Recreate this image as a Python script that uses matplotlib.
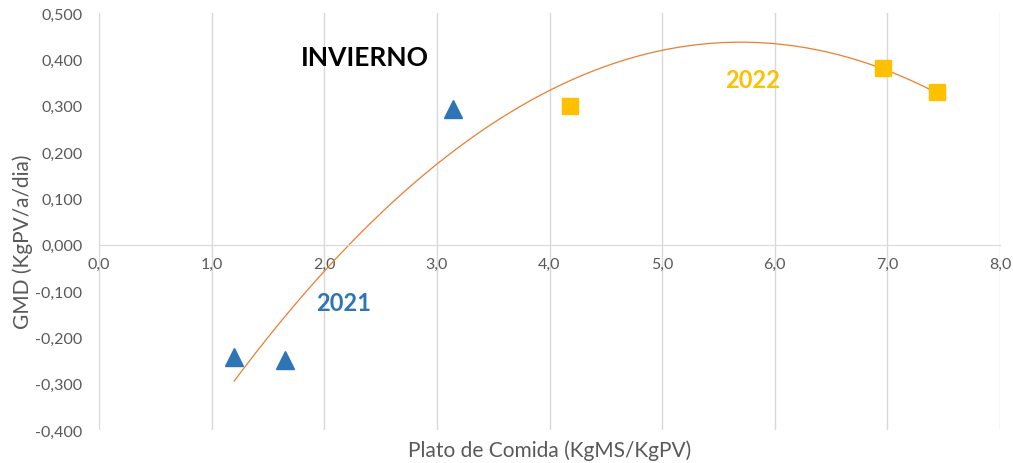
import numpy as np
import matplotlib.pyplot as plt

# datos
x_2021 = [1.20, 1.65, 3.14]
y_2021 = [-0.243, -0.249, 0.293]
x_2022 = [4.18, 6.96, 7.44]
y_2022 = [0.299, 0.381, 0.330]

xticks = [0, 1, 2, 3, 4, 5, 6, 7, 8]
yticks = [-0.4, -0.3, -0.2, -0.1, 0.0, 0.1, 0.2, 0.3, 0.4, 0.5]

plt.rcParams['font.family'] = ['Lato', 'DejaVu Sans']
gris = "#595959"

fig = plt.figure(figsize=(10.13, 4.64), dpi=100)
ax = fig.add_axes([0.0977, 0.0711, 0.8895, 0.8987])

# linea de tendencia polinomica (orden 2)
x_all = np.array(x_2021 + x_2022)
y_all = np.array(y_2021 + y_2022)
coef = np.polyfit(x_all, y_all, 2)
xs = np.linspace(x_all.min(), x_all.max(), 200)
ax.plot(xs, np.polyval(coef, xs), color="#ED7D31", lw=0.9, zorder=2)

ax.plot(x_2021, y_2021, linestyle="none", marker="^", markersize=13, color="#2E75B6", zorder=3)
ax.plot(x_2022, y_2022, linestyle="none", marker="s", markersize=12, color="#FFC000", zorder=3)

ax.text(2.36, 0.405, "INVIERNO", fontsize=19, fontweight="bold", color="black", ha="center", va="center")
ax.text(2.17, -0.124, "2021", fontsize=17, fontweight="bold", color="#2E75B6", ha="center", va="center")
ax.text(5.8, 0.357, "2022", fontsize=17, fontweight="bold", color="#FFC000", ha="center", va="center")

ax.set_xlim(0, 8)
ax.set_ylim(-0.4, 0.5)
ax.set_xticks(xticks)
ax.set_yticks(yticks)
ax.set_xticklabels([f"{v:.1f}".replace(".", ",") for v in xticks])
ax.set_yticklabels([f"{v:.3f}".replace(".", ",") for v in yticks])
ax.tick_params(length=0, labelsize=11.5, labelcolor=gris)
ax.tick_params(axis="x", pad=9)
ax.tick_params(axis="y", pad=12)

ax.grid(True, axis="x", color="#D9D9D9", lw=1)
for s in ["top", "right", "left"]:
    ax.spines[s].set_visible(False)
ax.spines["bottom"].set_position(("data", 0))
ax.spines["bottom"].set_color("#D9D9D9")

fig.text(0.543, 0.028, "Plato de Comida (KgMS/KgPV)", fontsize=15, color=gris, ha="center", va="center")
fig.text(0.022, 0.478, "GMD (KgPV/a/dia)", fontsize=15, color=gris, ha="center", va="center", rotation=90)

fig.savefig("out.png", dpi=100)
